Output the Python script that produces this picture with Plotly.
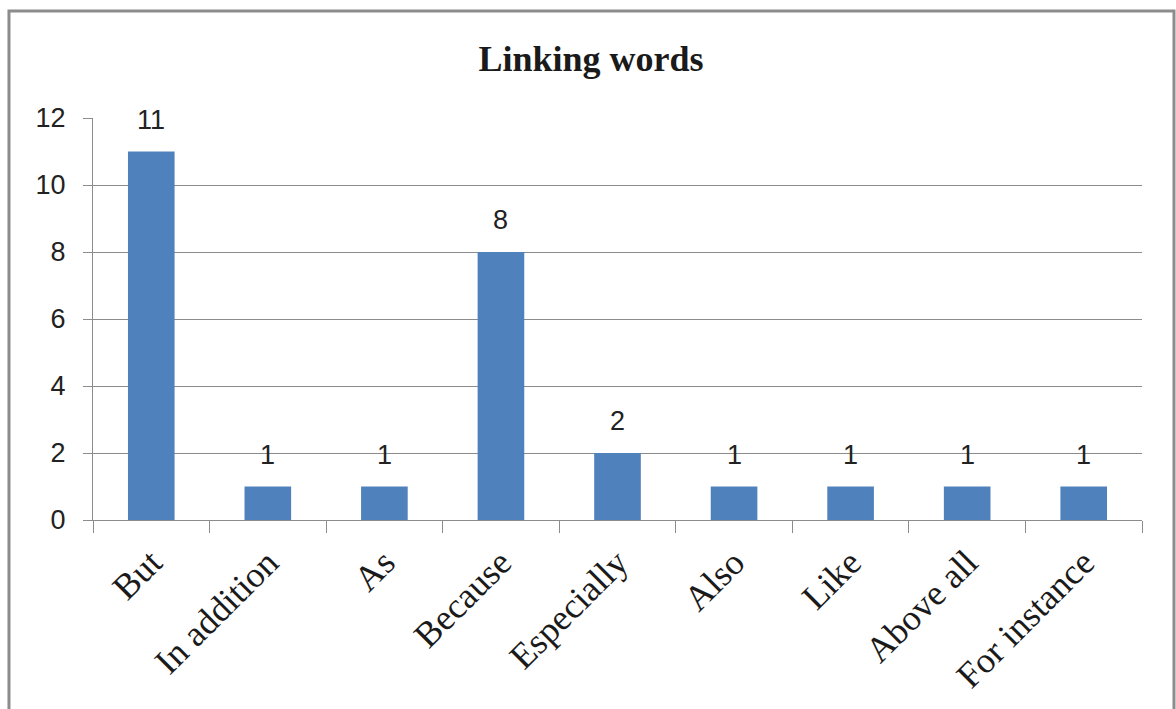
import plotly.graph_objects as go

# Frequency of each linking word
categories = ["But", "In addition", "As", "Because", "Especially",
              "Also", "Like", "Above all", "For instance"]
counts = [11, 1, 1, 8, 2, 1, 1, 1, 1]

y_ticks = [0, 2, 4, 6, 8, 10, 12]

BAR_COLOR = "#4F81BD"
GRID_COLOR = "#8C8C8C"
SANS = "Liberation Sans, Arial, sans-serif"
SERIF = "Liberation Serif, Times New Roman, serif"

fig = go.Figure()
fig.add_trace(go.Bar(
    x=categories,
    y=counts,
    marker=dict(color=BAR_COLOR, line=dict(width=0)),
    hoverinfo="x+y",
))

# Value labels floating above each bar
for cat, val in zip(categories, counts):
    fig.add_annotation(
        x=cat, y=val, text=str(val), showarrow=False,
        yanchor="middle", yshift=32,
        font=dict(family=SANS, size=27, color="#222222"),
    )

# Outer chart frame
fig.add_shape(
    type="rect", xref="paper", yref="paper",
    x0=-0.0801, x1=1.0305, y0=-0.49, y1=1.266,
    line=dict(color="#8C8C8C", width=3), fillcolor="rgba(0,0,0,0)",
    layer="below",
)

fig.update_layout(
    width=1176, height=709,
    margin=dict(l=93, r=34, t=118, b=189),
    paper_bgcolor="white", plot_bgcolor="white",
    bargap=0.6,
    showlegend=False,
    title=dict(
        text="<b>Linking words</b>",
        x=0.4747, xanchor="center", xref="paper",
        y=1 - 58 / 709, yanchor="middle", yref="container",
        font=dict(family=SERIF, size=36, color="#1A1A1A"),
    ),
    xaxis=dict(
        type="category",
        tickangle=-45,
        tickson="boundaries",
        ticks="outside", ticklen=12, tickcolor=GRID_COLOR, tickwidth=1,
        ticklabelstandoff=6,
        showline=True, linecolor=GRID_COLOR, linewidth=1,
        showgrid=False,
        tickfont=dict(family=SERIF, size=36, color="#1A1A1A"),
    ),
    yaxis=dict(
        range=[0, 12],
        tickvals=y_ticks,
        ticks="outside", ticklen=9, tickcolor=GRID_COLOR, tickwidth=1,
        ticklabelstandoff=12,
        showline=True, linecolor=GRID_COLOR, linewidth=1,
        showgrid=True, gridcolor=GRID_COLOR, gridwidth=1,
        zeroline=False,
        tickfont=dict(family=SANS, size=27, color="#222222"),
    ),
)

fig.write_html("out.html")
